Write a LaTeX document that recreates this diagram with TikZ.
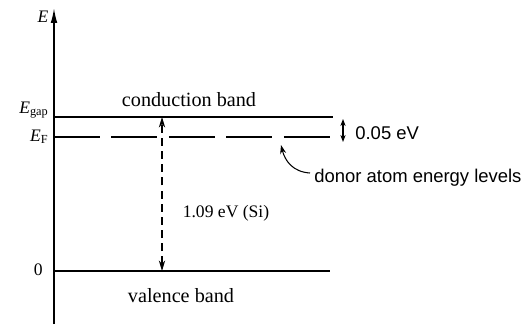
\documentclass[tikz,border=0pt]{standalone}
\usepackage{fontspec}
\setmainfont{Liberation Serif}
\newfontfamily\notesans{Liberation Sans}
\usetikzlibrary{arrows.meta,positioning,calc}
\tikzset{every node/.style={font=\fontsize{11.5}{13}\selectfont,inner sep=0pt},
 axisline/.style={-{Latex[length=8.5pt,width=3.8pt]},line width=.9pt},
 band/.style={line width=.9pt},
 donorlevel/.style={line width=.9pt,dash pattern=on 26.2pt off 6.5pt},
 gaparrow/.style={{Stealth[length=6pt,width=3.6pt]}-{Stealth[length=6pt,width=3.6pt]},line width=.6pt,dash pattern=on 4.5pt off 3pt},
 smallgap/.style={{Stealth[length=4pt,width=3pt]}-{Stealth[length=4pt,width=3pt]},line width=.6pt},
 pointer/.style={-{Stealth[length=5pt,width=3.4pt]},line width=.6pt},
 ticklabel/.style={font=\fontsize{10}{12}\selectfont},
 note/.style={font=\notesans\fontsize{10.5}{12}\selectfont}}

\begin{document}
\begin{tikzpicture}[x=0.02cm,y=-0.02cm]

\path[use as bounding box] (0,0) rectangle (526,324);
% energy axis
\coordinate (axbot) at (54,324);
\coordinate (axtop) at (54,8);
\draw[axisline] (axbot)--(axtop);
\node[ticklabel] (elabel) at (43,17) {\textit{E}};
% bands and donor level
\coordinate (cbL) at (54,117); \coordinate (cbR) at (333,117);
\coordinate (efL) at (54,137); \coordinate (efR) at (333,137);
\coordinate (vbL) at (54,271); \coordinate (vbR) at (330,271);
\draw[band] (cbL)--(cbR);
\draw[donorlevel] (efL)--(efR);
\draw[band] (vbL)--(vbR);
\node[ticklabel,anchor=base east] (egap) at (49,113) {\textit{E}\textsubscript{gap}};
\node[ticklabel,anchor=base east] (ef) at (49,141) {\textit{E}\textsubscript{F}};
\node[ticklabel,anchor=east] (zero) at (43,270) {0};
\node (cband) at (189,100) {conduction band};
\node (vband) at (181,296) {valence band};
% band gap
\coordinate (gaptop) at (162,117);
\coordinate (gapbot) at (162,271);
\draw[gaparrow] (gapbot)--(gaptop);
\node[ticklabel] (gapval) at (226,213) {1.09 eV (Si)};
% donor offset
\coordinate (dtop) at (343,119);
\coordinate (dbot) at (343,142);
\draw[smallgap] (dbot)--(dtop);
\node[note,anchor=west] (dval) at (355,133) {0.05 eV};
\node[note,anchor=west] (donor) at (314,178) {donor atom energy levels};
\coordinate (dtip) at (281,145);
\draw[pointer] ($(donor.west)+(-4,-5)$) .. controls (293,172) and (285,161) .. (dtip);

\end{tikzpicture}
\end{document}
